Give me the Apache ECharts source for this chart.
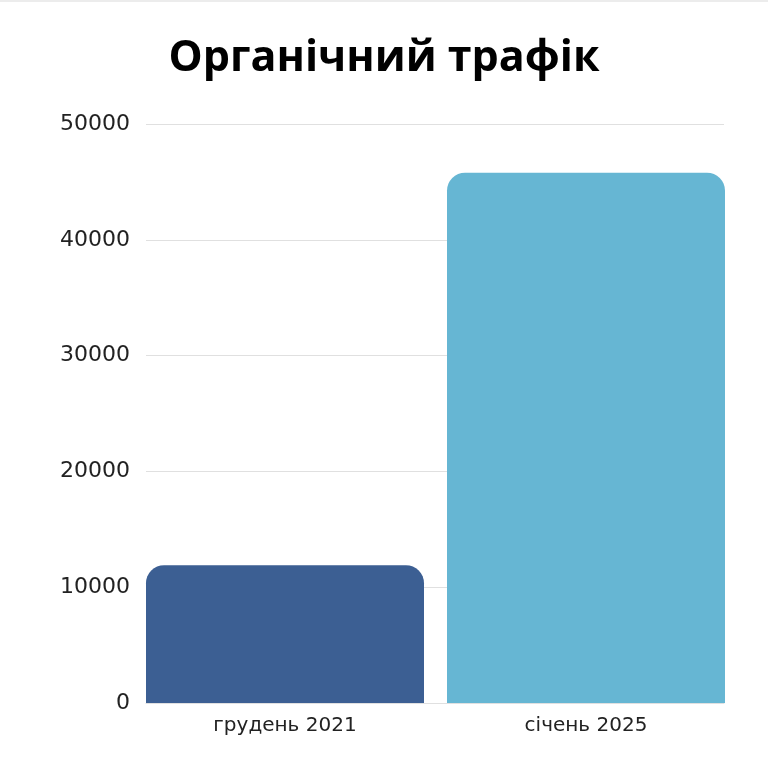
<!DOCTYPE html>
<html>
<head>
<meta charset="utf-8">
<script src="https://cdn.jsdelivr.net/npm/echarts@6/dist/echarts.min.js"></script>
<style>
  html, body { margin: 0; padding: 0; background: #fff; }
  #main { width: 768px; height: 764px; }
</style>
</head>
<body>
<div id="main"></div>
<script>
// дані
let categories = ['грудень 2021', 'січень 2025'];
let values = [11900, 45800];
let barColors = ['#3c5f93', '#66b6d3'];
let yTicks = [0, 10000, 20000, 30000, 40000, 50000];

let chart = echarts.init(document.getElementById('main'));

// сітка 0 - лінії та підписи осі Y, сітка 1 - стовпці
let option = {
	backgroundColor: '#fff',
	title: {
		text: 'Органічний трафік',
		left: 'center',
		top: 32,
		textStyle: {
			fontFamily: 'Open Sans',
			fontWeight: 'bold',
			fontSize: 43,
			color: '#000'
		}
	},
	graphic: [{
		type: 'rect',
		shape: { x: 0, y: 0, width: 768, height: 2 },
		style: { fill: '#ececec' }
	}],
	grid: [
		{ left: 146, right: 44, top: 124, bottom: 61 },
		{ left: 134.5, right: 31.5, top: 124, bottom: 61 }
	],
	xAxis: [{
		type: 'category',
		gridIndex: 0,
		data: categories,
		axisLine: { show: true, lineStyle: { color: '#e0e0e0' } },
		axisTick: { show: false },
		axisLabel: { show: false }
	}, {
		type: 'category',
		gridIndex: 1,
		data: categories,
		axisLine: { show: false },
		axisTick: { show: false },
		axisLabel: {
			color: '#222',
			fontSize: 20,
			fontFamily: 'DejaVu Sans',
			margin: 13
		}
	}],
	yAxis: [{
		type: 'value',
		gridIndex: 0,
		min: yTicks[0],
		max: yTicks[yTicks.length - 1],
		interval: 10000,
		axisLine: { show: false },
		axisTick: { show: false },
		splitLine: { lineStyle: { color: '#e0e0e0', width: 1 } },
		axisLabel: {
			color: '#222',
			fontSize: 22,
			fontFamily: 'DejaVu Sans',
			margin: 16,
			padding: [4, 0, 0, 0],
			formatter: function (v) { return String(v); }
		}
	}, {
		type: 'value',
		gridIndex: 1,
		min: yTicks[0],
		max: yTicks[yTicks.length - 1],
		interval: 10000,
		show: false,
		splitLine: { show: false }
	}],
	series: [{
		type: 'bar',
		xAxisIndex: 1,
		yAxisIndex: 1,
		barWidth: 278,
		data: values.map(function (v, i) {
			return { value: v, itemStyle: { color: barColors[i] } };
		}),
		itemStyle: { borderRadius: [18, 18, 0, 0] }
	}]
};

chart.setOption(option);
</script>
</body>
</html>
